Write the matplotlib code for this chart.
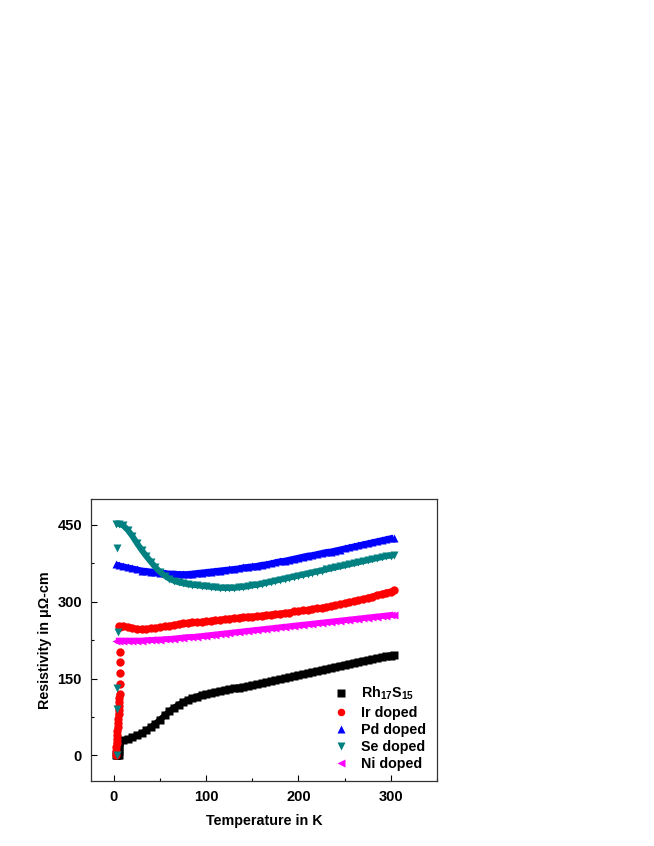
import matplotlib
matplotlib.use('Agg')
import matplotlib.pyplot as plt
from matplotlib.ticker import MultipleLocator

plt.rcParams['font.family'] = 'Liberation Sans'
plt.rcParams['font.weight'] = 'bold'
plt.rcParams['mathtext.fontset'] = 'custom'
plt.rcParams['mathtext.rm'] = 'Liberation Sans:bold'
plt.rcParams['mathtext.bf'] = 'Liberation Sans:bold'

# common temperature grid (K) for the normal-state curves
temp = [5, 10, 15, 20, 25, 30, 35, 40, 45, 50, 55, 60, 65, 70, 75, 80, 85, 90, 95, 100,
        105, 110, 115, 120, 125, 130, 135, 140, 145, 150, 155, 160, 165, 170, 175, 180, 185, 190, 195, 200,
        205, 210, 215, 220, 225, 230, 235, 240, 245, 250, 255, 260, 265, 270, 275, 280, 285, 290, 295, 300, 303]

rh17s15 = [27, 30, 32, 35, 39, 43, 49, 55, 62, 70, 78, 86, 93, 99, 104, 108, 112, 115, 118, 120,
           122, 124, 126, 128, 129.5, 131, 132.5, 134, 135.5, 137, 139, 141, 143, 145, 147, 149, 151, 153, 155, 157,
           159, 161, 163, 165, 167, 169, 171, 173, 175, 177, 179, 181, 183, 185, 186.5, 188, 190, 192, 193.5, 195, 196]
ir_doped = [252, 253, 251, 249, 247, 247, 247, 248, 249, 250, 252, 253, 255, 256, 258, 259, 260, 260, 261, 262,
            263, 264, 265, 266, 267, 268, 269, 270, 271, 271, 272, 273, 274, 275, 276, 277, 278, 279, 281, 282,
            283, 284, 286, 287, 288, 290, 291, 293, 295, 297, 299, 301, 303, 305, 308, 310, 313, 315, 318, 320, 322]
pd_doped = [371, 369, 367, 365, 363, 361, 360, 359, 358, 357, 356, 355, 355, 354, 354, 354, 355, 356, 357, 358,
            359, 360, 361, 362, 363, 364, 365, 367, 368, 369, 370, 372, 373, 375, 377, 379, 380, 382, 384, 386,
            388, 390, 391, 393, 395, 397, 398, 400, 402, 404, 406, 408, 410, 412, 414, 416, 418, 420, 422, 424, 425]
se_doped = [452, 449, 440, 428, 414, 401, 389, 378, 367, 358, 351, 345, 341, 338, 336, 334, 333, 332, 331, 330,
            329, 328, 327, 327, 327, 327, 328, 329, 330, 332, 333, 335, 337, 339, 341, 343, 345, 347, 349, 351,
            353, 355, 357, 359, 361, 363, 365, 367, 369, 371, 373, 375, 377, 379, 381, 383, 385, 387, 389, 390, 391]
ni_doped = [224, 224, 224, 224, 224, 224, 225, 225, 226, 226, 227, 227, 228, 229, 230, 231, 231, 232, 233, 234,
            235, 236, 237, 238, 239, 240, 241, 242, 243, 244, 245, 246, 247, 248, 249, 250, 251, 252, 253, 254,
            255, 256, 257, 258, 259, 260, 261, 262, 263, 264, 265, 266, 267, 268, 269, 270, 271, 272, 273, 274, 275]

# superconducting transition region (low temperature points)
rh_low_t = [2, 3, 4, 5, 5, 5, 5]
rh_low = [0, 0, 0, 0, 8, 16, 24]
ir_low_t = [2, 2.3, 2.6, 2.9, 3.2, 3.5, 3.8, 4.1, 4.4, 4.7, 5, 5.2, 5.4, 5.6, 5.8, 6]
ir_low = [0, 8, 16, 24, 32, 40, 48, 56, 64, 72, 80, 88, 96, 104, 112, 120]
ir_gap_t = [6.2, 6.2, 6.2, 6.2, 6.5]
ir_gap = [140, 160, 182, 201, 250]
pd_low_t = [2]
pd_low = [373]
se_low_t = [2]
se_low = [452]
se_gap_t = [3, 3, 3.5, 4, 3]
se_gap = [0, 90, 132, 240, 404]
ni_low_t = [2]
ni_low = [224]

series = [
    ('Rh$_{\\mathbf{17}}$S$_{\\mathbf{15}}$', 's', 'black', rh_low_t + temp, rh_low + rh17s15, [], []),
    ('Ir doped', 'o', '#FF0000', ir_low_t, ir_low, ir_gap_t + temp, ir_gap + ir_doped),
    ('Pd doped', '^', '#0000FF', pd_low_t + temp, pd_low + pd_doped, [], []),
    ('Se doped', 'v', '#008080', se_low_t + temp, se_low + se_doped, se_gap_t, se_gap),
    ('Ni doped', '<', '#FF00FF', ni_low_t + temp, ni_low + ni_doped, [], []),
]

fig = plt.figure(figsize=(6.54, 8.46), dpi=100)
ax = fig.add_axes([0.139, 0.0768, 0.529, 0.333])

ms = 6
for label, mk, col, x1, y1, x2, y2 in series:
    # dense measured points merge into a band
    ax.plot(x1, y1, '-', color=col, lw=4.3, solid_capstyle='butt')
    if label == 'Ir doped':
        ax.plot(x2[4:], y2[4:], '-', color=col, lw=4.3, solid_capstyle='butt')
    ax.plot(x1, y1, mk, color=col, ms=ms, mec='none', label=label)
    if x2:
        ax.plot(x2, y2, mk, color=col, ms=ms, mec='none')

ax.set_xlim(-25, 350)
ax.set_ylim(-50, 500)
ax.xaxis.set_major_locator(MultipleLocator(100))
ax.xaxis.set_minor_locator(MultipleLocator(50))
ax.yaxis.set_major_locator(MultipleLocator(150))
ax.yaxis.set_minor_locator(MultipleLocator(75))
ax.tick_params(which='both', direction='in', top=False, right=False, labelsize=10.5, pad=6.5)
ax.tick_params(which='major', length=4, width=0.8)
ax.tick_params(which='minor', length=2.5, width=0.8)
for s in ax.spines.values():
    s.set_linewidth(0.9)
    s.set_color('#333333')

ax.set_xlabel('Temperature in K', fontsize=10.3, fontweight='bold', labelpad=7)
ax.set_ylabel('Resistivity in \u03bc\u03a9-cm', fontsize=10.3, fontweight='bold', labelpad=4)

ax.legend(loc='lower right', bbox_to_anchor=(1.005, -0.01), frameon=False, fontsize=10.3,
          markerscale=0.9, handlelength=1.2, handletextpad=0.75, labelspacing=0.22)

fig.savefig('out.png', dpi=100)
